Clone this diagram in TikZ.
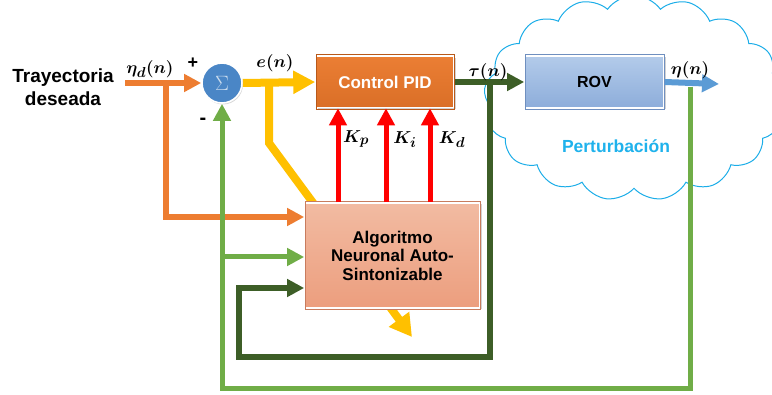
\documentclass[tikz,border=0pt]{standalone}
\usepackage[no-math]{fontspec}
\setmainfont{Liberation Sans}
\usepackage{bm}
\usetikzlibrary{arrows.meta,shapes.symbols,shadows}
\definecolor{cOrange}{HTML}{ED7D31}
\definecolor{cYellow}{HTML}{FFC000}
\definecolor{cDark}{HTML}{3D5E27}
\definecolor{cGreen}{HTML}{70AD47}
\definecolor{cBlue}{HTML}{5B9BD5}
\definecolor{cCloud}{HTML}{1BADE8}
\definecolor{cPert}{HTML}{1FB2EC}
\definecolor{cSum}{HTML}{4A86C6}
\definecolor{pidTop}{HTML}{EB7E34}
\definecolor{pidBot}{HTML}{DA6F27}
\definecolor{pidLine}{HTML}{B8591A}
\definecolor{rovTop}{HTML}{B3CBEA}
\definecolor{rovBot}{HTML}{8DADDA}
\definecolor{rovLine}{HTML}{6F8FBF}
\definecolor{algTop}{HTML}{F2BBA2}
\definecolor{algBot}{HTML}{EC9E7E}
\definecolor{algLine}{HTML}{C87C5E}
\begin{document}
\begin{tikzpicture}[x=1pt,y=-1pt,
  flow/.style={line width=#1, -{Triangle[length=17pt,width=17pt]}, line join=miter},
  flow/.default=6pt,
  blockbox/.style={rectangle, draw=white, line width=1.6pt, drop shadow={opacity=0.35, shadow xshift=1.5pt, shadow yshift=-1.5pt},
    font=\bfseries\fontsize{17}{18.5}\selectfont, align=center, inner sep=0pt},
  mlabel/.style={font=\fontsize{19}{22}\selectfont, inner sep=1pt}
]
\useasboundingbox (0,0) rectangle (772,395);
\begin{scope}
\clip (0,0) rectangle (772,395);
\node[cloud, cloud puffs=17, cloud puff arc=110, aspect=1.5, draw=cCloud, line width=1pt, fill=white,
  minimum width=300pt, minimum height=205pt] (cloud) at (634,98) {};
\end{scope}
\node[cPert, font=\bfseries\fontsize{17.5}{20}\selectfont] (pert) at (616,146) {Perturbación};

% title
\node[font=\bfseries\fontsize{19}{23}\selectfont, align=center] (title) at (63,87) {Trayectoria\\deseada};

% coordinates
\coordinate (in) at (125,83);
\coordinate (br1) at (166,83);
\coordinate (o1) at (166,217);
\coordinate (y0) at (269,80);
\coordinate (y1) at (269,143);
\coordinate (y2) at (412,337);
\coordinate (g0) at (490,83);
\coordinate (g1) at (239,357);
\coordinate (g2) at (239,288);
\coordinate (out) at (719,84);
\coordinate (f0) at (690,87);
\coordinate (f1) at (222,389);
\coordinate (f2) at (222,257);
\coordinate (xp) at (338,0);
\coordinate (xi) at (386,0);
\coordinate (xd) at (430,0);

% yellow diagonal first (behind the algorithm box)
\draw[line width=8pt, cYellow, line join=miter, -{Triangle[length=22pt,width=24pt]}] (y0) -- (y1) -- (y2);

\node[blockbox, minimum width=175pt, minimum height=105pt, top color=algTop, bottom color=algBot] (alg) at (392.5,255.5) {Algoritmo\\Neuronal Auto-\\Sintonizable};
\draw[algLine, line width=0.6pt] ([shift={(1pt,-1pt)}]alg.south west) rectangle ([shift={(-1pt,1pt)}]alg.north east);

\node[blockbox, minimum width=138pt, minimum height=51pt, top color=pidTop, bottom color=pidBot, text=white] (pid) at (385,82) {Control PID};
\draw[pidLine, line width=0.6pt] ([shift={(1pt,-1pt)}]pid.south west) rectangle ([shift={(-1pt,1pt)}]pid.north east);

\node[blockbox, minimum width=139pt, minimum height=52pt, top color=rovTop, bottom color=rovBot, font=\bfseries\fontsize{16}{18}\selectfont] (rov) at (594.5,82) {ROV};
\draw[rovLine, line width=0.6pt] ([shift={(1pt,-1pt)}]rov.south west) rectangle ([shift={(-1pt,1pt)}]rov.north east);

\node[circle, minimum size=40pt, inner sep=0pt, fill=cSum, draw=white, line width=1.6pt,
  drop shadow={opacity=0.3, shadow xshift=1pt, shadow yshift=-1.5pt}] (sum) at (222,83) {\color{white!70!cSum}\fontsize{20}{20}\selectfont$\Sigma$};

% connectors
\draw[flow=6pt, cOrange] (in) -- (sum.west);
\draw[flow=6pt, cOrange] (br1) |- (alg.west |- o1);
\draw[flow=8pt, cYellow, -{Triangle[length=22pt,width=22pt]}] (sum.east) -- (pid.west);
\draw[flow=6pt, cDark] (pid.east) -- (rov.west);
\draw[flow=6pt, cDark] (g0) |- (g1) -- (g2) -- (alg.west |- g2);
\draw[flow=6pt, cBlue] (rov.east) -- (out);
\draw[flow=5pt, cGreen] (f0) |- (f1) -- (sum.south);
\draw[flow=5pt, cGreen] (f2) -- (alg.west |- f2);
\draw[flow=5pt, red] (xp |- alg.north) -- (xp |- pid.south);
\draw[flow=5pt, red] (xi |- alg.north) -- (xi |- pid.south);
\draw[flow=5pt, red] (xd |- alg.north) -- (xd |- pid.south);

% labels
\node[mlabel] (lbeta) at (150,69) {$\bm{\eta_d(n)}$};
\node[mlabel] (lbe) at (275,63) {$\bm{e(n)}$};
\node[mlabel] (lbtau) at (488,72) {$\bm{\tau(n)}$};
\node[mlabel] (lbout) at (690,70) {$\bm{\eta(n)}$};
\node[mlabel] (lkp) at (356,139) {$\bm{K_p}$};
\node[mlabel] (lki) at (405,140) {$\bm{K_i}$};
\node[mlabel] (lkd) at (452,140) {$\bm{K_d}$};
\node[font=\bfseries\fontsize{18}{18}\selectfont] (plus) at (193,63) {+};
\node[font=\bfseries\fontsize{20}{20}\selectfont] (minus) at (203,121) {-};
\end{tikzpicture}
\end{document}
